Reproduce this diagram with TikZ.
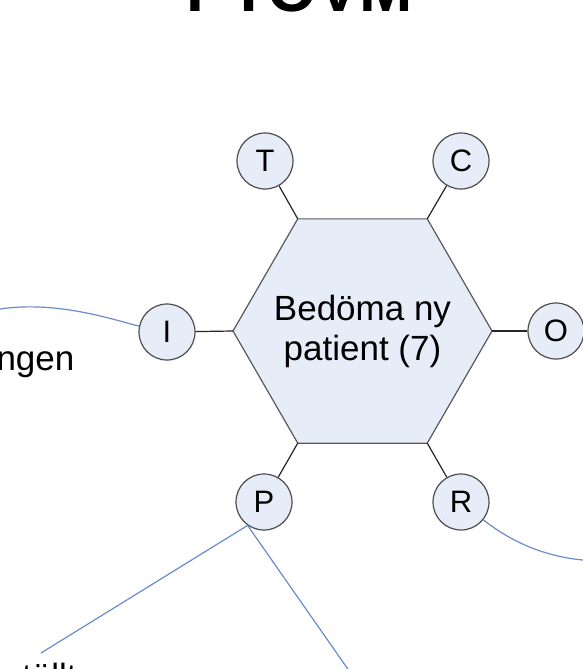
\documentclass[tikz,border=0pt]{standalone}
\usepackage{fontspec}
\setmainfont{Liberation Sans}
\usepackage{xcolor}
\usepackage{tikz}
\usetikzlibrary{shapes.geometric}
\definecolor{hexfill}{HTML}{E6EDF8}
\definecolor{linkblue}{HTML}{6A8CCB}
\tikzset{
    hexnode/.style = {regular polygon, regular polygon sides=6, draw=black!65, fill=hexfill, inner sep=0pt, outer sep=0pt, minimum size=259pt},
    letnode/.style = {circle, draw=black!70, fill=hexfill, inner sep=0pt, minimum size=56pt, font=\fontsize{31}{31}\selectfont},
    textnode/.style = {inner sep=0pt, align=center, font=\fontsize{35}{40}\selectfont},
}

\begin{document}
\begin{tikzpicture}[
	x=1pt,
	y=-1pt,
	line width=1.2pt
]
\tikzset{
    edgen/.style = {-,black!85},
    edgeb/.style = {-,linkblue}
}
\useasboundingbox (0,0) rectangle (583,669);
\clip (0,0) rectangle (583,669);
\node[textnode, anchor=base west, font=\fontsize{64}{64}\selectfont\bfseries] at (186,12) (title) {PTOVM};
%
\node[hexnode] at (362.5,331) (hex) {};
\node[textnode] at (hex.center) (hextext) {Bed\"oma ny\\patient (7)};
\node[letnode] at (265,161) (t) {T};
\node[letnode] at (461,161) (c) {C};
\node[letnode] at (167,332) (i) {I};
\node[letnode] at (556,331) (o) {O};
\node[letnode] at (264,502) (p) {P};
\node[letnode] at (461,502) (r) {R};
%
\node[textnode, anchor=base east] at (75,370) (ngen) {ngen};
\node[textnode, anchor=base west] at (4,688) (stallt) {st\"allt};
\coordinate (ileft) at (0,309);
\coordinate (rright) at (583,560);
\coordinate (pleft) at (41,653);
\coordinate (pdown) at (352,675);
%
\draw[edgen] (t) -- (hex.120);
\draw[edgen] (c) -- (hex.60);
\draw[edgen] (i) -- (hex.180);
\draw[edgen] (o) -- (hex.0);
\draw[edgen] (p) -- (hex.240);
\draw[edgen] (r) -- (hex.300);
%
\draw[edgeb] (ileft) .. controls (60,300) and (120,322) .. (i);
\draw[edgeb] (r) .. controls (515,545) and (550,557) .. (rright);
\draw[edgeb] (p.235) -- (pleft);
\draw[edgeb] (p.235) -- (pdown);
\end{tikzpicture}
\end{document}
